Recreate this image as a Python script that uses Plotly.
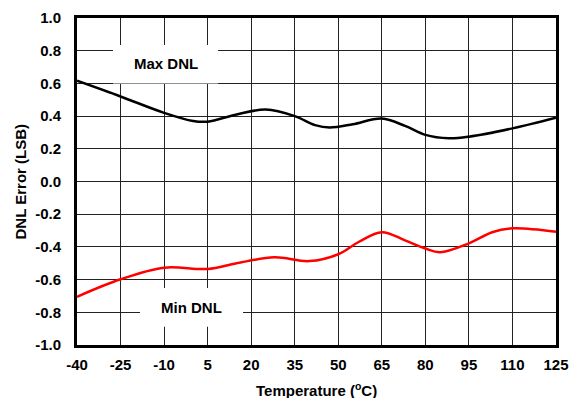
import plotly.graph_objects as go

# DNL error vs temperature
temp = [-40, -25, -10, 0, 5, 15, 25, 35, 42, 47, 55, 65, 73, 80, 88, 95, 110, 125]
max_dnl = [0.616, 0.52, 0.42, 0.37, 0.366, 0.41, 0.44, 0.40, 0.345, 0.33, 0.35, 0.385, 0.34, 0.285, 0.264, 0.274, 0.325, 0.39]

temp_min = [-40, -25, -10, 5, 15, 28, 40, 50, 57, 65, 73, 80, 85, 95, 103, 110, 125]
min_dnl = [-0.705, -0.598, -0.527, -0.535, -0.5, -0.464, -0.487, -0.445, -0.37, -0.31, -0.36, -0.41, -0.433, -0.378, -0.31, -0.286, -0.307]

xticks = list(range(-40, 126, 15))
yticks = [-1.0, -0.8, -0.6, -0.4, -0.2, 0.0, 0.2, 0.4, 0.6, 0.8, 1.0]
ytext = ["%.1f" % v for v in yticks]

font = "Liberation Sans, Arial, sans-serif"

fig = go.Figure()
fig.add_trace(go.Scatter(x=temp, y=max_dnl, mode="lines", name="Max DNL",
                         line=dict(color="black", width=2.5, shape="spline", smoothing=1.0)))
fig.add_trace(go.Scatter(x=temp_min, y=min_dnl, mode="lines", name="Min DNL",
                         line=dict(color="#ff0000", width=2.5, shape="spline", smoothing=1.0)))

# white label boxes over the grid
fig.add_shape(type="rect", x0=-27.6, x1=8.6, y0=0.60, y1=0.835,
              fillcolor="white", line=dict(width=0), layer="between")
fig.add_shape(type="rect", x0=-18.3, x1=17.2, y0=-0.888, y1=-0.651,
              fillcolor="white", line=dict(width=0), layer="between")
fig.add_annotation(x=-9.5, y=0.72, text="<b>Max DNL</b>", showarrow=False,
                   font=dict(family=font, size=15, color="black"))
fig.add_annotation(x=-0.5, y=-0.77, text="<b>Min DNL</b>", showarrow=False,
                   font=dict(family=font, size=15, color="black"))

# axis titles placed by hand
fig.add_annotation(xref="paper", yref="paper", x=0.5, y=0, yshift=-44,
                   text="<b>Temperature (<sup>o</sup>C)</b>", showarrow=False,
                   yanchor="middle", font=dict(family=font, size=15))
fig.add_annotation(xref="paper", yref="paper", x=0, y=0.5, xshift=-57,
                   text="<b>DNL Error (LSB)</b>", showarrow=False, textangle=-90,
                   xanchor="center", font=dict(family=font, size=15))

# page body adds an 8px offset, so the figure is trimmed to fit
fig.update_layout(
    width=571, height=390,
    margin=dict(l=69, r=23, t=10, b=53),
    paper_bgcolor="white", plot_bgcolor="white",
    showlegend=False,
    font=dict(family=font, size=15, color="black"),
    xaxis=dict(range=[-40, 125], tickvals=xticks, ticktext=[str(v) for v in xticks],
               showgrid=True, gridcolor="#222", gridwidth=1,
               showline=True, linecolor="black", linewidth=3, mirror=True,
               ticks="", zeroline=False, ticklabelstandoff=4, automargin=False,
               tickfont=dict(family=font, size=15, weight="bold")),
    yaxis=dict(range=[-1.0, 1.0], tickvals=yticks, ticktext=ytext,
               showgrid=True, gridcolor="#222", gridwidth=1,
               showline=True, linecolor="black", linewidth=3, mirror=True,
               ticks="", zeroline=False, ticklabelstandoff=10, automargin=False,
               tickfont=dict(family=font, size=15, weight="bold")),
)

fig.write_html("out.html")
